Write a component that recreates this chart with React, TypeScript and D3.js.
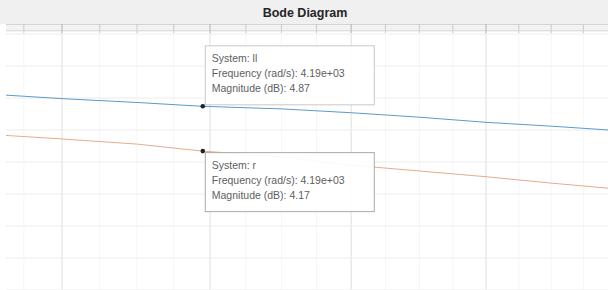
import * as d3 from "d3";
import React from "react";

// frequency samples (rad/s) and magnitudes (dB)
const freqs = [3920, 4000, 4100, 4190, 4300, 4400, 4500, 4600, 4700, 4790];
const magLL = [5.05, 4.99, 4.93, 4.87, 4.83, 4.77, 4.70, 4.62, 4.56, 4.50];
const magR = [4.42, 4.36, 4.28, 4.17, 4.08, 3.95, 3.86, 3.77, 3.67, 3.59];

const majorFreqs = [4000, 4200, 4400, 4600];
const minorFreqs = d3.range(3950, 4800, 50);
const magTicks = d3.range(2, 6.5, 0.5);

const tipIndex = 3;
const tipNames = ["ll", "r"];

const W = 608, H = 290;
const plotTop = 24;

export default function App() {
    const x = d3.scaleLog().domain([4000, 4600]).range([62, 486]);
    const y = d3.scaleLinear().domain([5, 4]).range([98, 162]);

    const line = d3.line<number>()
        .x((_, i) => x(freqs[i]))
        .y(d => y(d));

    const series = [
        { name: tipNames[0], data: magLL, color: "#5b9bcc" },
        { name: tipNames[1], data: magR, color: "#e6ab90" },
    ];

    const fmtFreq = (f: number) => {
        const e = Math.floor(Math.log10(f));
        return (f / Math.pow(10, e)).toFixed(2) + "e+" + String(e).padStart(2, "0");
    };

    const font = "'Liberation Sans', Arial, sans-serif";

    return (
        <div style={{ position: "fixed", left: 0, top: 0 }}>
            <svg width={W} height={H} style={{ display: "block" }}>
                <rect width={W} height={H} fill="#ffffff" />
                <rect width={W} height={plotTop} fill="#f0f0f0" />
                <text x={305} y={17} textAnchor="middle" fontFamily={font}
                      fontWeight="bold" fontSize={12.5} fill="#262626">Bode Diagram</text>

                <defs>
                    <clipPath id="plot">
                        <rect x={6} y={plotTop} width={W} height={H} />
                    </clipPath>
                </defs>

                <g clipPath="url(#plot)">
                    {minorFreqs.map(f => (
                        <line key={"mn" + f} x1={x(f)} x2={x(f)} y1={plotTop} y2={H}
                              stroke="#f6f6f6" />
                    ))}
                    {majorFreqs.map(f => (
                        <line key={"mj" + f} x1={x(f)} x2={x(f)} y1={plotTop} y2={H}
                              stroke="#e2e2e2" />
                    ))}
                    {magTicks.map(v => (
                        <line key={"h" + v} x1={6} x2={W} y1={y(v)} y2={y(v)}
                              stroke="#ececec" />
                    ))}
                    {/* top edge of the axes with its ticks */}
                    <rect x={6} y={plotTop} width={W} height={8} fill="#f3f3f3" />
                    <line x1={6} x2={W} y1={plotTop + 0.5} y2={plotTop + 0.5} stroke="#d4d4d4" />
                    <line x1={6} x2={W} y1={plotTop + 6.5} y2={plotTop + 6.5} stroke="#dedede" />
                    {minorFreqs.map(f => (
                        <line key={"t" + f} x1={x(f)} x2={x(f)} y1={plotTop} y2={plotTop + 9}
                              stroke={majorFreqs.includes(f) ? "#b4b4b4" : "#cccccc"} />
                    ))}

                    {series.map(s => (
                        <path key={s.name} d={line(s.data) || ""} fill="none"
                              stroke={s.color} strokeWidth={1} />
                    ))}
                </g>

                {series.map((s, k) => {
                    const px = x(freqs[tipIndex]);
                    const py = y(s.data[tipIndex]);
                    const bx = px + 2;
                    const by = k === 0 ? py - 61 : py + 1;
                    const lines = [
                        "System: " + s.name,
                        "Frequency (rad/s): " + fmtFreq(freqs[tipIndex]),
                        "Magnitude (dB): " + s.data[tipIndex].toFixed(2),
                    ];
                    return (
                        <g key={"tip" + s.name}>
                            <rect x={bx + 0.5} y={by + 0.5} width={169} height={59}
                                  fill="#ffffff" fillOpacity={0.92}
                                  stroke={k === 0 ? "#c8c8c8" : "#aaaaaa"} />
                            {lines.map((t, j) => (
                                <text key={j} x={bx + 7} y={by + 17 + j * 15}
                                      fontFamily={font} fontSize={10.5} fill="#5e5e5e">{t}</text>
                            ))}
                            <circle cx={px} cy={py} r={2.3} fill="#222" />
                        </g>
                    );
                })}
            </svg>
        </div>
    );
}
